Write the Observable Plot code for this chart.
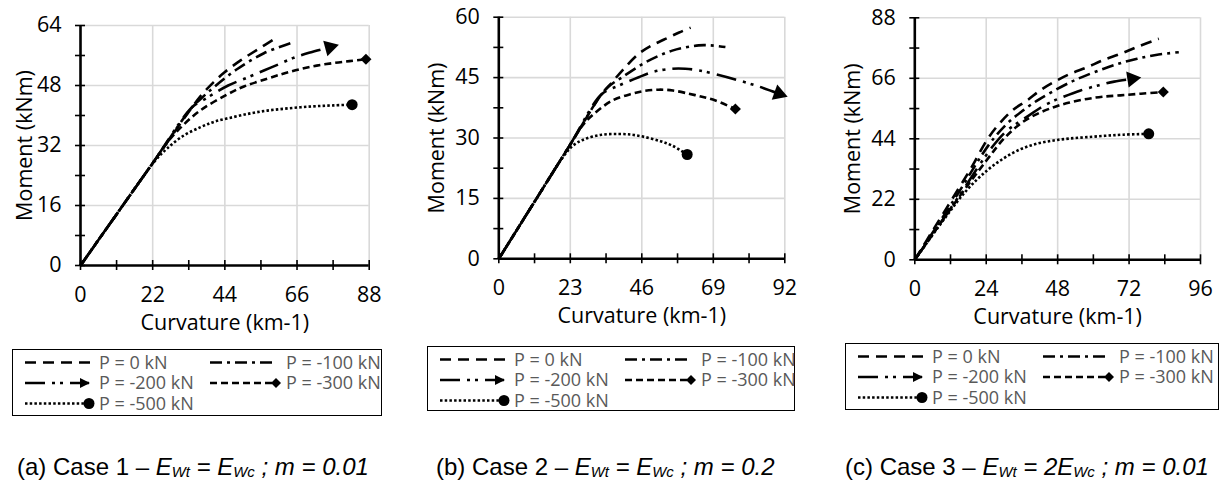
<!DOCTYPE html>
<html>
<head>
<meta charset="utf-8">
<script src="https://cdn.jsdelivr.net/npm/d3@7"></script>
<script src="https://cdn.jsdelivr.net/npm/@observablehq/plot@0.6"></script>
<style>
  html, body { margin: 0; padding: 0; background: #fff; }
  #root { position: relative; width: 1222px; height: 481px; background: #fff; overflow: hidden; }
  .panel { position: absolute; top: 0; }
  .legend { position: absolute; box-sizing: border-box; border: 1.6px solid #000; background: #fff; }
  .caption { position: absolute; font-family: "Liberation Sans", Arial, sans-serif; font-size: 24px; color: #000; white-space: nowrap; line-height: 1; }
  .caption i sub { font-size: 0.62em; vertical-align: -0.12em; }
</style>
</head>
<body>
<div id="root"></div>
<script>
// ---------------- DATA ----------------
const seriesNames = ["P = 0 kN", "P = -100 kN", "P = -200 kN", "P = -300 kN", "P = -500 kN"];
const xAxisTitle = "Curvature (km-1)";
const yAxisTitle = "Moment (kNm)";

// Case 1
const c1_xTicks = [0, 22, 44, 66, 88];
const c1_yTicks = [0, 16, 32, 48, 64];
const c1_P0_x   = [0, 12, 22, 34, 36.6, 40.6, 44, 48.8, 54, 60];
const c1_P0_y   = [0, 14.9, 27.3, 42.2, 45.2, 48.9, 51.6, 54.7, 57.6, 60.9];
const c1_P100_x = [0, 12, 22, 34, 36.6, 40.6, 47.8, 55.9, 64];
const c1_P100_y = [0, 14.9, 27.3, 42.2, 44.4, 47.5, 52.4, 56.6, 59.3];
const c1_P200_x = [0, 12, 22, 34, 37.6, 40.6, 45, 50.8, 55.9, 60, 65, 70, 76];
const c1_P200_y = [0, 14.9, 27.3, 42.2, 44.2, 45.8, 48, 50.1, 52, 53.5, 55.4, 56.8, 58.2];
const c1_P300_x = [0, 12, 22, 27, 31, 36.6, 44.7, 50, 56.9, 62, 67.1, 72, 77.2, 82, 87];
const c1_P300_y = [0, 14.9, 27.3, 33.4, 37.2, 41.4, 45.6, 47.8, 49.8, 51.2, 52.4, 53.3, 54, 54.5, 55];
const c1_P500_x = [0, 12, 20, 23, 26.4, 31, 36.6, 41, 46.7, 52, 56.9, 62, 67.1, 72, 77.2, 82.8];
const c1_P500_y = [0, 14.9, 24.8, 28.2, 31.2, 34.4, 36.9, 38.4, 39.6, 40.6, 41.3, 41.8, 42.2, 42.5, 42.7, 42.9];

// Case 2
const c2_xTicks = [0, 23, 46, 69, 92];
const c2_yTicks = [0, 15, 30, 45, 60];
const c2_P0_x   = [0, 12, 23, 33, 36.5, 40, 45, 49, 53.6, 58, 61.7];
const c2_P0_y   = [0, 14.8, 28.4, 40.8, 43.9, 47, 50.9, 52.9, 54.6, 56.2, 57.4];
const c2_P100_x = [0, 12, 23, 33, 36, 39.7, 47.2, 55.8, 64.3, 68, 72.9];
const c2_P100_y = [0, 14.8, 28.4, 40.8, 43.2, 45.1, 48.8, 51.7, 53, 53, 52.6];
const c2_P200_x = [0, 12, 23, 33, 38.6, 45, 50, 55.8, 60, 64.3, 70, 77.2, 84, 90.1];
const c2_P200_y = [0, 14.8, 28.4, 40.8, 43, 45.1, 46.5, 47.2, 47.2, 46.8, 45.8, 44.3, 42.7, 41];
const c2_P300_x = [0, 12, 23, 27, 30, 36.5, 42.9, 47, 51.5, 56, 61.1, 65, 69.7, 76.1];
const c2_P300_y = [0, 14.8, 28.4, 33.2, 35.6, 39.3, 41, 41.7, 42, 41.8, 41, 40.3, 39.3, 37.2];
const c2_P500_x = [0, 12, 20.4, 24, 27.9, 33, 38.6, 43, 47.2, 52, 55.8, 60.6];
const c2_P500_y = [0, 14.8, 25, 28.2, 29.8, 30.8, 31, 30.8, 30.2, 29.2, 28.1, 25.9];

// Case 3
const c3_xTicks = [0, 24, 48, 72, 96];
const c3_yTicks = [0, 22, 44, 66, 88];
const c3_P0_x   = [0, 6, 12.5, 19, 24.5, 28.8, 33, 37.8, 42, 46.7, 52, 57.9, 63, 69.1, 75, 82];
const c3_P0_y   = [0, 10.6, 22, 33.5, 44, 50, 54.5, 58, 61.5, 64.6, 67.5, 70, 72.5, 74.9, 77.5, 80.4];
const c3_P100_x = [0, 13, 25, 31, 36, 41.1, 46, 52.3, 57, 63.5, 69, 74.7, 81, 88.7];
const c3_P100_y = [0, 21.5, 42, 49.5, 54, 57.9, 61, 64.6, 66.8, 69.5, 71.5, 73.1, 74.5, 75.5];
const c3_P200_x = [0, 13.5, 26, 31, 37, 44.5, 50, 55.7, 62, 67, 73];
const c3_P200_y = [0, 21, 41, 47, 51.5, 56.7, 59.3, 61.6, 63.5, 64.8, 65.8];
const c3_P300_x = [0, 14, 24, 29.9, 35.5, 41, 46.7, 52, 57.9, 63, 69.1, 76, 83.5];
const c3_P300_y = [0, 21.5, 36, 44, 49.5, 53, 55.5, 57.2, 58.5, 59.3, 59.8, 60.4, 61];
const c3_P500_x = [0, 10, 17.6, 24.3, 30, 35.5, 41, 46.7, 52, 57.9, 64, 70, 78.6];
const c3_P500_y = [0, 15, 25.5, 32.5, 37, 40.2, 42.2, 43.4, 44.1, 44.6, 45.1, 45.5, 45.8];

// ---------------- STYLES ----------------
const FONT = "'Open Sans', sans-serif";
const LW = 2.6;
const seriesStyles = [
  {dash: "11,7", end: null},
  {dash: "12,5,3,5", end: null},
  {dash: "20,7,3,5,3,7", end: "arrow"},
  {dash: "7,4", end: "diamond"},
  {dash: "2.5,2.2", end: "circle"}
];

const panels = [
  {xMax: 88, yMax: 64, xTicks: c1_xTicks, yTicks: c1_yTicks,
   xs: [c1_P0_x, c1_P100_x, c1_P200_x, c1_P300_x, c1_P500_x],
   ys: [c1_P0_y, c1_P100_y, c1_P200_y, c1_P300_y, c1_P500_y],
   geom: {left: 0, width: 400, height: 345, mL: 80, mR: 31.3, mT: 25, mB: 80, yLabelDx: -55.5},
   legend: {left: 12, top: 349, width: 370, height: 67},
   caption: {left: 17, top: 455, label: "(a) Case 1 – ", factor: "", m: "0.01"}},
  {xMax: 92, yMax: 60, xTicks: c2_xTicks, yTicks: c2_yTicks,
   xs: [c2_P0_x, c2_P100_x, c2_P200_x, c2_P300_x, c2_P500_x],
   ys: [c2_P0_y, c2_P100_y, c2_P200_y, c2_P300_y, c2_P500_y],
   geom: {left: 405, width: 400, height: 345, mL: 93.3, mR: 20.7, mT: 16.7, mB: 86.7, yLabelDx: -61.6},
   legend: {left: 427, top: 346, width: 368, height: 65},
   caption: {left: 436, top: 455, label: "(b) Case 2 – ", factor: "", m: "0.2"}},
  {xMax: 96, yMax: 88, xTicks: c3_xTicks, yTicks: c3_yTicks,
   xs: [c3_P0_x, c3_P100_x, c3_P200_x, c3_P300_x, c3_P500_x],
   ys: [c3_P0_y, c3_P100_y, c3_P200_y, c3_P300_y, c3_P500_y],
   geom: {left: 820, width: 400, height: 345, mL: 94.3, mR: 20, mT: 17.3, mB: 85.7, yLabelDx: -61.3},
   legend: {left: 845, top: 343, width: 374, height: 67},
   caption: {left: 845, top: 455, label: "(c) Case 3 – ", factor: "2", m: "0.01"}}
];

const root = document.getElementById("root");

function halves(ticks) {
  const out = [];
  for (let i = 0; i < ticks.length; i++) {
    out.push(ticks[i]);
    if (i < ticks.length - 1) out.push((ticks[i] + ticks[i + 1]) / 2);
  }
  return out;
}

function makePanel(p) {
  const g = p.geom;
  const fw = g.width - g.mL - g.mR, fh = g.height - g.mT - g.mB;
  const kx = fw / p.xMax, ky = fh / p.yMax;
  const dX = 5 / kx, dY = 5 / ky;
  const allX = halves(p.xTicks), allY = halves(p.yTicks);

  const marks = [
    Plot.gridX(p.xTicks.filter(v => v > 0), {stroke: "#d9d9d9", strokeOpacity: 1, strokeWidth: 1.6}),
    Plot.gridY(p.yTicks.filter(v => v > 0), {stroke: "#d9d9d9", strokeOpacity: 1, strokeWidth: 1.6}),
    Plot.ruleX(allX, {x: d => d, y1: -dY, y2: dY, stroke: "black", strokeWidth: 1.6}),
    Plot.ruleY(allY, {y: d => d, x1: -dX, x2: dX, stroke: "black", strokeWidth: 1.6}),
    Plot.ruleX([0], {stroke: "black", strokeWidth: 2.6}),
    Plot.ruleY([0], {stroke: "black", strokeWidth: 2.6}),
    Plot.axisX({ticks: p.xTicks, tickSize: 0, tickPadding: 21, label: null, tickFormat: d => String(d)}),
    Plot.axisY({ticks: p.yTicks, tickSize: 0, tickPadding: 19, label: null, tickFormat: d => String(d)}),
    Plot.text([xAxisTitle], {text: d => d, frameAnchor: "bottom", textAnchor: "middle", dy: 64}),
    Plot.text([yAxisTitle], {text: d => d, frameAnchor: "left", textAnchor: "middle", dx: g.yLabelDx, rotate: -90})
  ];

  p.xs.forEach((xs, i) => {
    const ys = p.ys[i];
    const pts = xs.map((x, j) => ({x, y: ys[j]}));
    const st = seriesStyles[i];
    marks.push(Plot.line(pts, {x: "x", y: "y", stroke: "black", strokeWidth: LW,
      strokeDasharray: st.dash, strokeLinecap: "butt", curve: "catmull-rom"}));
    const last = pts[pts.length - 1], prev = pts[pts.length - 2];
    if (st.end === "diamond") {
      marks.push(Plot.dot([last], {x: "x", y: "y", symbol: "diamond2", r: 5, fill: "black", stroke: "none"}));
    } else if (st.end === "circle") {
      marks.push(Plot.dot([last], {x: "x", y: "y", symbol: "circle", r: 5.5, fill: "black", stroke: "none"}));
    } else if (st.end === "arrow") {
      const ang = Math.atan2((last.x - prev.x) * kx, (last.y - prev.y) * ky) * 180 / Math.PI;
      marks.push(Plot.dot([last], {x: "x", y: "y", symbol: "triangle", r: 6, fill: "black", stroke: "none", rotate: ang}));
    }
  });

  const chart = Plot.plot({
    width: g.width, height: g.height,
    marginLeft: g.mL, marginRight: g.mR, marginTop: g.mT, marginBottom: g.mB,
    x: {domain: [0, p.xMax]},
    y: {domain: [0, p.yMax]},
    style: {fontFamily: FONT, fontSize: "21.5px", color: "#000", background: "transparent", overflow: "visible"},
    marks
  });
  const wrap = document.createElement("div");
  wrap.className = "panel";
  wrap.style.left = g.left + "px";
  wrap.appendChild(chart);
  root.appendChild(wrap);
}

function sample(svg, x0, x1, y, i) {
  const st = seriesStyles[i];
  svg.append("line").attr("x1", x0).attr("x2", x1).attr("y1", y).attr("y2", y)
    .attr("stroke", "black").attr("stroke-width", LW).attr("stroke-dasharray", st.dash);
  if (st.end === "arrow") {
    svg.append("path").attr("d", `M${x1 + 1},${y} L${x1 - 9},${y - 5} L${x1 - 9},${y + 5} Z`).attr("fill", "black");
  } else if (st.end === "diamond") {
    svg.append("path").attr("d", `M${x1},${y - 5} L${x1 + 5},${y} L${x1},${y + 5} L${x1 - 5},${y} Z`).attr("fill", "black");
  } else if (st.end === "circle") {
    svg.append("circle").attr("cx", x1).attr("cy", y).attr("r", 5.5).attr("fill", "black");
  }
}

function makeLegend(p) {
  const L = p.legend;
  const div = document.createElement("div");
  div.className = "legend";
  Object.assign(div.style, {left: L.left + "px", top: L.top + "px", width: L.width + "px", height: L.height + "px"});
  const svg = d3.create("svg").attr("width", L.width - 3).attr("height", L.height - 3)
    .style("position", "absolute").style("left", "0px").style("top", "0px").style("overflow", "visible");
  const rows = [12.5, 33, 53.5];
  const pos = [
    {r: 0, sx0: 12, sx1: 77, tx: 86},
    {r: 0, sx0: 197, sx1: 264, tx: 273},
    {r: 1, sx0: 12, sx1: 77, tx: 86},
    {r: 1, sx0: 197, sx1: 264, tx: 273},
    {r: 2, sx0: 12, sx1: 77, tx: 86}
  ];
  seriesNames.forEach((name, i) => {
    const q = pos[i];
    const y = rows[q.r];
    const st = seriesStyles[i];
    const x1 = st.end ? q.sx1 - 1 : q.sx1;
    sample(svg, q.sx0, x1, y, i);
    svg.append("text").attr("x", q.tx).attr("y", y).attr("dy", "0.35em")
      .attr("font-family", FONT).attr("font-size", 18).attr("fill", "#595959").text(name);
  });
  div.appendChild(svg.node());
  root.appendChild(div);
}

function makeCaption(p) {
  const c = p.caption;
  const div = document.createElement("div");
  div.className = "caption";
  div.style.left = c.left + "px";
  div.style.top = c.top + "px";
  div.innerHTML = `${c.label}<i>E<sub>Wt</sub> = ${c.factor}E<sub>Wc</sub> ; m = ${c.m}</i>`;
  root.appendChild(div);
}

panels.forEach(p => { makePanel(p); makeLegend(p); makeCaption(p); });
</script>
</body>
</html>
